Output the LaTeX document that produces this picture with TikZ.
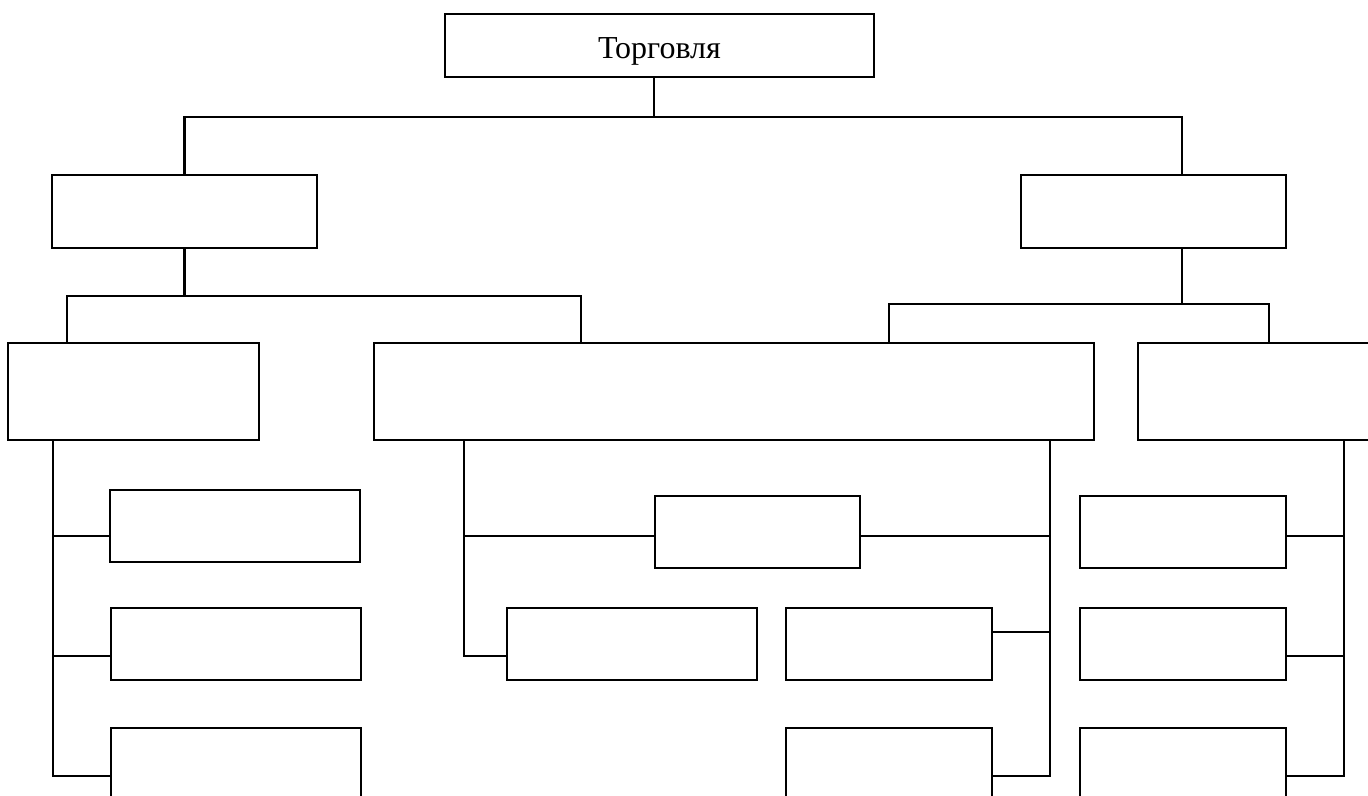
\documentclass[tikz,border=0pt]{standalone}
\usepackage{fontspec}
\setmainfont{Liberation Serif}
\usetikzlibrary{fit,calc}
\tikzset{
  box/.style={draw, line width=1.6pt, inner sep=0pt, outer sep=0pt},
  ln/.style={line width=1.6pt, line cap=rect}
}
\newcommand\mybx[5]{\node[box, fit={(#2,#3) (#4,#5)}] (#1) {};}
\begin{document}
\begin{tikzpicture}[x=0.75pt,y=-0.75pt]
\useasboundingbox (0,0) rectangle (1368,796);
\clip (0,0) rectangle (1368,796);
% top
\node[box, minimum width=321.75pt, minimum height=47.25pt, text depth=0pt, font=\fontsize{24pt}{28pt}\selectfont] (top) at (659.5,45.5) {\raisebox{-4pt}{Торговля}};
% level 2
\mybx{l2a}{52}{175}{317}{248}
\mybx{l2b}{1021}{175}{1286}{248}
% level 3
\mybx{l3a}{8}{343}{259}{440}
\mybx{l3b}{374}{343}{1094}{440}
\mybx{l3c}{1138}{343}{1420}{440}
% left column
\mybx{a1}{110}{490}{360}{562}
\mybx{a2}{111}{608}{361}{680}
\mybx{a3}{111}{728}{361}{830}
% middle
\mybx{m0}{655}{496}{860}{568}
\mybx{md}{507}{608}{757}{680}
\mybx{me}{786}{608}{992}{680}
\mybx{mf}{786}{728}{992}{830}
% right column
\mybx{g1}{1080}{496}{1286}{568}
\mybx{g2}{1080}{608}{1286}{680}
\mybx{g3}{1080}{728}{1286}{830}
% connectors level 1 -> 2
\coordinate (k0) at (654,117);
\coordinate (k1) at (1182,117);
\draw[ln] (top.south -| k0) -- (k0);
\draw[ln] (l2a.north) |- (k1) -- (k1 |- l2b.north);
% level 2 left -> 3
\coordinate (k2) at (67,296);
\coordinate (k3) at (581,296);
\draw[ln] (l2a.south) -- (l2a.south |- k2);
\draw[ln] (k2 |- l3a.north) -- (k2) -- (k3) -- (k3 |- l3b.north);
% level 2 right -> 3
\coordinate (k4) at (889,304);
\coordinate (k5) at (1269,304);
\draw[ln] (k1 |- l2b.south) -- (k1 |- k4);
\draw[ln] (k4 |- l3b.north) -- (k4) -- (k5) -- (k5 |- l3c.north);
% left column
\coordinate (v1) at (53,776);
\draw[ln] (v1 |- l3a.south) -- (v1) -- (v1 -| a3.west);
\draw[ln] (v1 |- 0,536) -- (a1.west |- 0,536);
\draw[ln] (v1 |- 0,656) -- (a2.west |- 0,656);
% middle left
\coordinate (v2) at (464,656);
\draw[ln] (v2 |- l3b.south) -- (v2) -- (v2 -| md.west);
\draw[ln] (v2 |- 0,536) -- (m0.west |- 0,536);
% middle right
\coordinate (v3) at (1050,776);
\draw[ln] (v3 |- l3b.south) -- (v3) -- (v3 -| mf.east);
\draw[ln] (v3 |- 0,536) -- (m0.east |- 0,536);
\draw[ln] (v3 |- 0,632) -- (me.east |- 0,632);
% right column
\coordinate (v4) at (1344,776);
\draw[ln] (v4 |- l3c.south) -- (v4) -- (v4 -| g3.east);
\draw[ln] (v4 |- 0,536) -- (g1.east |- 0,536);
\draw[ln] (v4 |- 0,656) -- (g2.east |- 0,656);
\end{tikzpicture}
\end{document}
